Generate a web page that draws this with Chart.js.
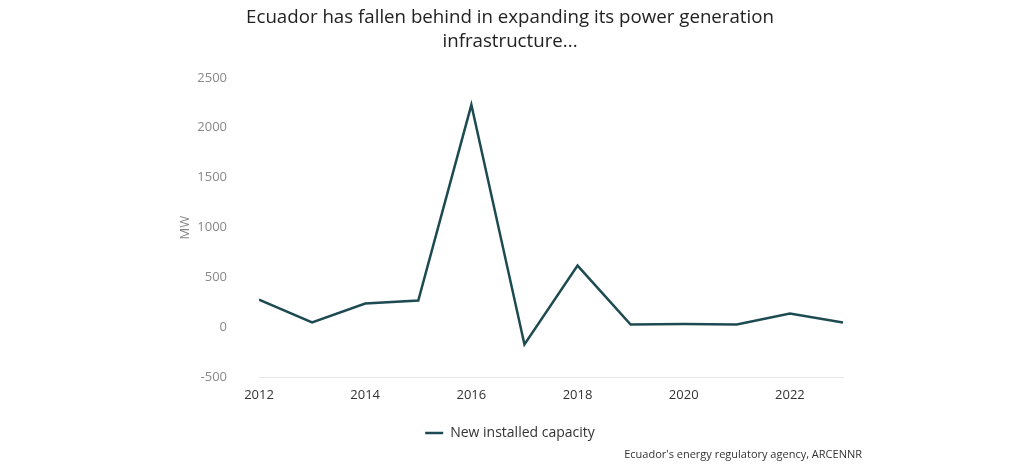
<!DOCTYPE html>
<html>
<head>
<meta charset="utf-8">
<script src="https://cdn.jsdelivr.net/npm/chart.js@4/dist/chart.umd.min.js"></script>
<style>
  html, body { margin: 0; padding: 0; background: #fff; }
  #wrap { width: 1024px; height: 465px; position: relative; }
</style>
</head>
<body>
<div id="wrap"><canvas id="chart"></canvas></div>
<script>
const years = [2012, 2013, 2014, 2015, 2016, 2017, 2018, 2019, 2020, 2021, 2022, 2023];
const newCapacity = [280, 50, 240, 270, 2230, -170, 620, 30, 35, 30, 140, 50];
const xTickLabels = [2012, 2014, 2016, 2018, 2020, 2022];
const yTickLabels = [-500, 0, 500, 1000, 1500, 2000, 2500];
const titleLines = ["Ecuador has fallen behind in expanding its power generation", "infrastructure..."];
const sourceText = "Ecuador's energy regulatory agency, ARCENNR";

const lineColor = "#1e4a52";

const sourcePlugin = {
    id: "sourceNote",
    afterDraw(chart) {
        const c = chart.ctx;
        c.save();
        c.font = "11px 'Open Sans'";
        c.fillStyle = "#333";
        c.textAlign = "right";
        c.textBaseline = "middle";
        c.fillText(sourceText, 862, 455);
        c.restore();
    }
};

new Chart(document.getElementById("chart"), {
    type: "line",
    data: {
        datasets: [{
            label: "New installed capacity",
            data: years.map((y, i) => ({ x: y, y: newCapacity[i] })),
            borderColor: lineColor,
            backgroundColor: lineColor,
            borderWidth: 2.5,
            pointRadius: 0,
            pointStyle: "line",
            tension: 0
        }]
    },
    options: {
        responsive: true,
        maintainAspectRatio: false,
        animation: false,
        layout: { padding: { left: 177, right: 181, top: 6, bottom: 15 } },
        plugins: {
            title: {
                display: true,
                text: titleLines,
                color: "#222",
                font: { family: "'Open Sans'", size: 18.7, weight: "normal", lineHeight: 1.28 },
                padding: { top: 0, bottom: 24 }
            },
            legend: {
                position: "bottom",
                labels: {
                    color: "#333",
                    font: { family: "'Open Sans'", size: 14 },
                    usePointStyle: true,
                    pointStyleWidth: 18,
                    boxHeight: 10,
                    padding: 21
                }
            },
            tooltip: { enabled: false }
        },
        scales: {
            x: {
                type: "linear",
                min: 2012,
                max: 2023,
                grid: { display: false },
                border: { display: true, color: "#e6e6e6" },
                afterBuildTicks: axis => { axis.ticks = xTickLabels.map(v => ({ value: v })); },
                ticks: {
                    color: "#333",
                    padding: 2,
                    font: { family: "'Open Sans'", size: 13 },
                    callback: v => String(v)
                }
            },
            y: {
                min: -500,
                max: 2500,
                grid: { display: false },
                border: { display: false },
                afterBuildTicks: axis => { axis.ticks = yTickLabels.map(v => ({ value: v })); },
                afterFit: axis => { axis.width = 82; },
                ticks: {
                    color: "#888",
                    padding: 24,
                    font: { family: "'Open Sans'", size: 13 },
                    callback: v => String(v)
                },
                title: {
                    display: true,
                    text: "MW",
                    color: "#888",
                    font: { family: "'Open Sans'", size: 13 },
                    padding: { top: 0, bottom: 4 }
                }
            }
        }
    },
    plugins: [sourcePlugin]
});
</script>
</body>
</html>
